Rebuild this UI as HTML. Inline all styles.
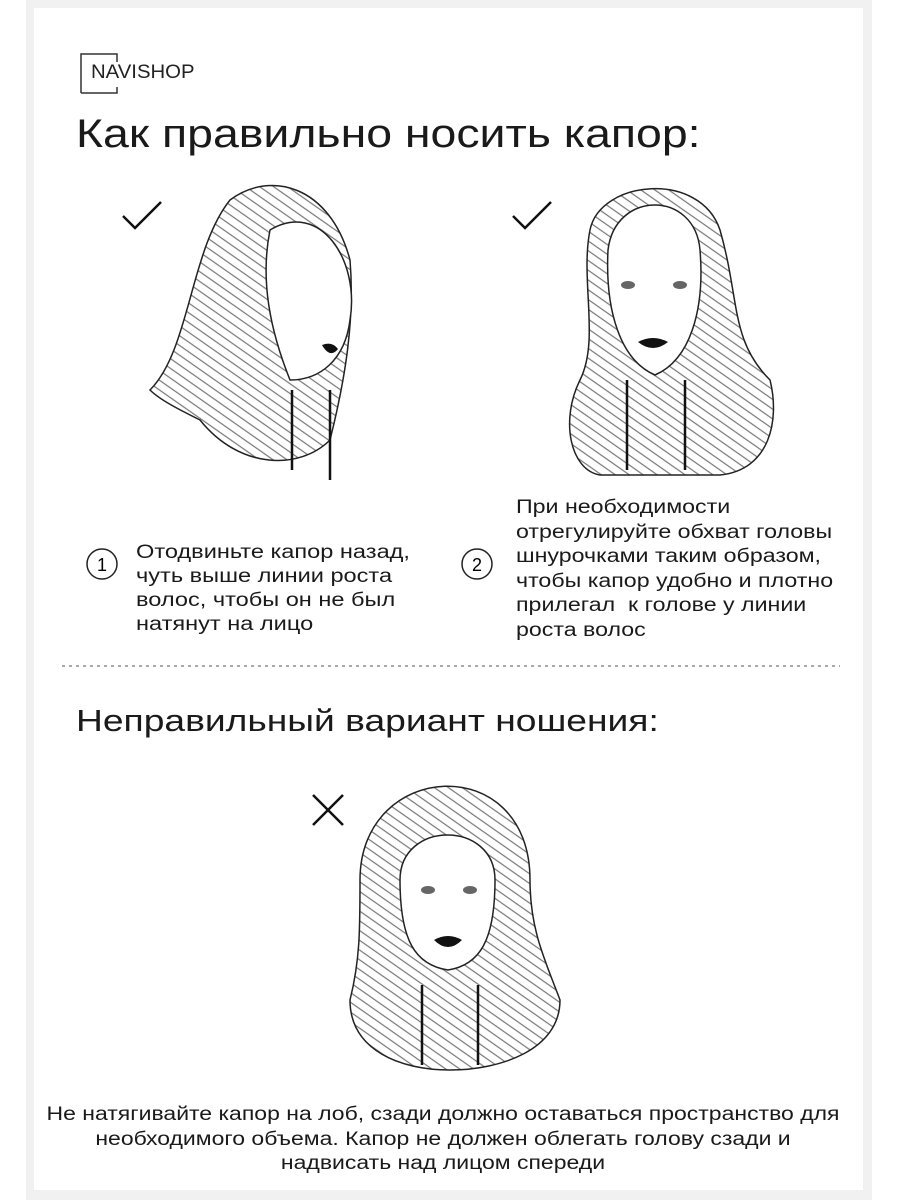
<!DOCTYPE html>
<html><head><meta charset="utf-8"><style>
body{margin:0;width:900px;height:1200px;background:#fff;position:relative;overflow:hidden;font-family:"Liberation Sans",sans-serif;color:#1a1a1a}
.bg{position:absolute;left:26px;top:0;width:846px;height:1200px;background:#f1f1f1}
.card{position:absolute;left:34px;top:8px;width:829px;height:1182px;background:#fff}
.t{position:absolute;white-space:nowrap;transform-origin:0 0}
</style></head><body>
<div class="bg"></div><div class="card"></div>
<svg style="position:absolute;left:0;top:0" width="900" height="1200">
<defs>
<pattern id="h" width="8" height="8" patternUnits="userSpaceOnUse" patternTransform="rotate(35)">
<rect width="8" height="8" fill="#fff"/><path d="M0 4H8" stroke="#777" stroke-width="1.2"/></pattern>
</defs>
<path d="M81 93V54H117V62M81 93H117V87" fill="none" stroke="#333" stroke-width="1.5"/>
<path d="M123 216l12 12 26-26" fill="none" stroke="#111" stroke-width="2.5"/>
<path d="M513 216l12 12 26-26" fill="none" stroke="#111" stroke-width="2.5"/>
<path d="M313 795l30 30M343 795l-30 30" stroke="#111" stroke-width="2.5"/>
<path d="M150 390 C190 350 190 250 230 200 C270 170 330 185 350 260 C355 320 345 380 330 440 C300 470 240 470 200 420 C180 410 160 400 150 390Z" fill="url(#h)" stroke="#222" stroke-width="1.5"/>
<path d="M270 230 C320 200 360 260 350 320 C345 360 320 380 290 380 C270 330 260 280 270 230Z" fill="#fff" stroke="#222" stroke-width="1.5"/>
<path d="M322 345 q10 -4 16 4 q-8 10 -16 -4z" fill="#111"/>
<path d="M292 390 V470 M330 390 V480" stroke="#111" stroke-width="2.5"/>
<path d="M590 230 C600 180 700 170 720 230 C740 300 730 340 770 380 C780 420 770 470 720 475 H600 C570 470 560 420 580 380 C600 340 580 280 590 230Z" fill="url(#h)" stroke="#222" stroke-width="1.5"/>
<path d="M608 250 C615 190 695 190 700 250 C705 310 690 360 655 375 C620 360 605 310 608 250Z" fill="#fff" stroke="#222" stroke-width="1.5"/>
<ellipse cx="628" cy="285" rx="7" ry="4" fill="#666"/><ellipse cx="680" cy="285" rx="7" ry="4" fill="#666"/>
<path d="M638 342 q15 -8 30 0 q-15 12 -30 0z" fill="#111"/>
<path d="M627 380 V470 M685 380 V470" stroke="#111" stroke-width="2.5"/>
<path d="M360 880 C360 760 530 750 530 880 C530 930 545 960 560 1000 C560 1050 500 1070 450 1070 C400 1070 350 1050 350 1000 C360 960 360 930 360 880Z" fill="url(#h)" stroke="#222" stroke-width="1.5"/>
<path d="M400 880 C400 820 495 820 495 880 C495 940 480 965 448 970 C415 965 400 940 400 880Z" fill="#fff" stroke="#222" stroke-width="1.5"/>
<ellipse cx="428" cy="890" rx="7" ry="4" fill="#666"/><ellipse cx="470" cy="890" rx="7" ry="4" fill="#666"/>
<path d="M434 940 q14 -8 28 0 q-14 14 -28 0z" fill="#111"/>
<path d="M422 985 V1065 M478 985 V1065" stroke="#111" stroke-width="2.5"/>
<circle cx="102" cy="564" r="15" fill="none" stroke="#222" stroke-width="1.5"/>
<circle cx="477" cy="564" r="15" fill="none" stroke="#222" stroke-width="1.5"/>
<text x="102" y="571" font-size="18" text-anchor="middle" font-family="Liberation Sans">1</text>
<text x="477" y="571" font-size="18" text-anchor="middle" font-family="Liberation Sans">2</text>
<line x1="62" y1="666" x2="840" y2="666" stroke="#aaa" stroke-width="2" stroke-dasharray="3 4"/>
</svg>
<div class="t" style="left:91px;top:62px;font-size:19px;color:#222;transform:scaleX(1.07)">NAVISHOP</div>
<div class="t" style="left:76px;top:112px;font-size:40px;transform:scaleX(1.16)">Как правильно носить капор:</div>
<div class="t" style="left:136px;top:541px;font-size:19px;line-height:24px;transform:scaleX(1.24)">Отодвиньте капор назад,<br>чуть выше линии роста<br>волос, чтобы он не был<br>натянут на лицо</div>
<div class="t" style="left:516px;top:496px;font-size:19px;line-height:24.5px;transform:scaleX(1.22)">При необходимости<br>отрегулируйте обхват головы<br>шнурочками таким образом,<br>чтобы капор удобно и плотно<br>прилегал&nbsp; к голове у линии<br>роста волос</div>
<div class="t" style="left:76px;top:703px;font-size:31px;transform:scaleX(1.2)">Неправильный вариант ношения:</div>
<div class="t" style="left:0;width:886px;top:1103px;font-size:19px;line-height:24.5px;text-align:center;transform-origin:443px 0;transform:scaleX(1.21)">Не натягивайте капор на лоб, сзади должно оставаться пространство для<br>необходимого объема. Капор не должен облегать голову сзади и<br>надвисать над лицом спереди</div>
</body></html>
